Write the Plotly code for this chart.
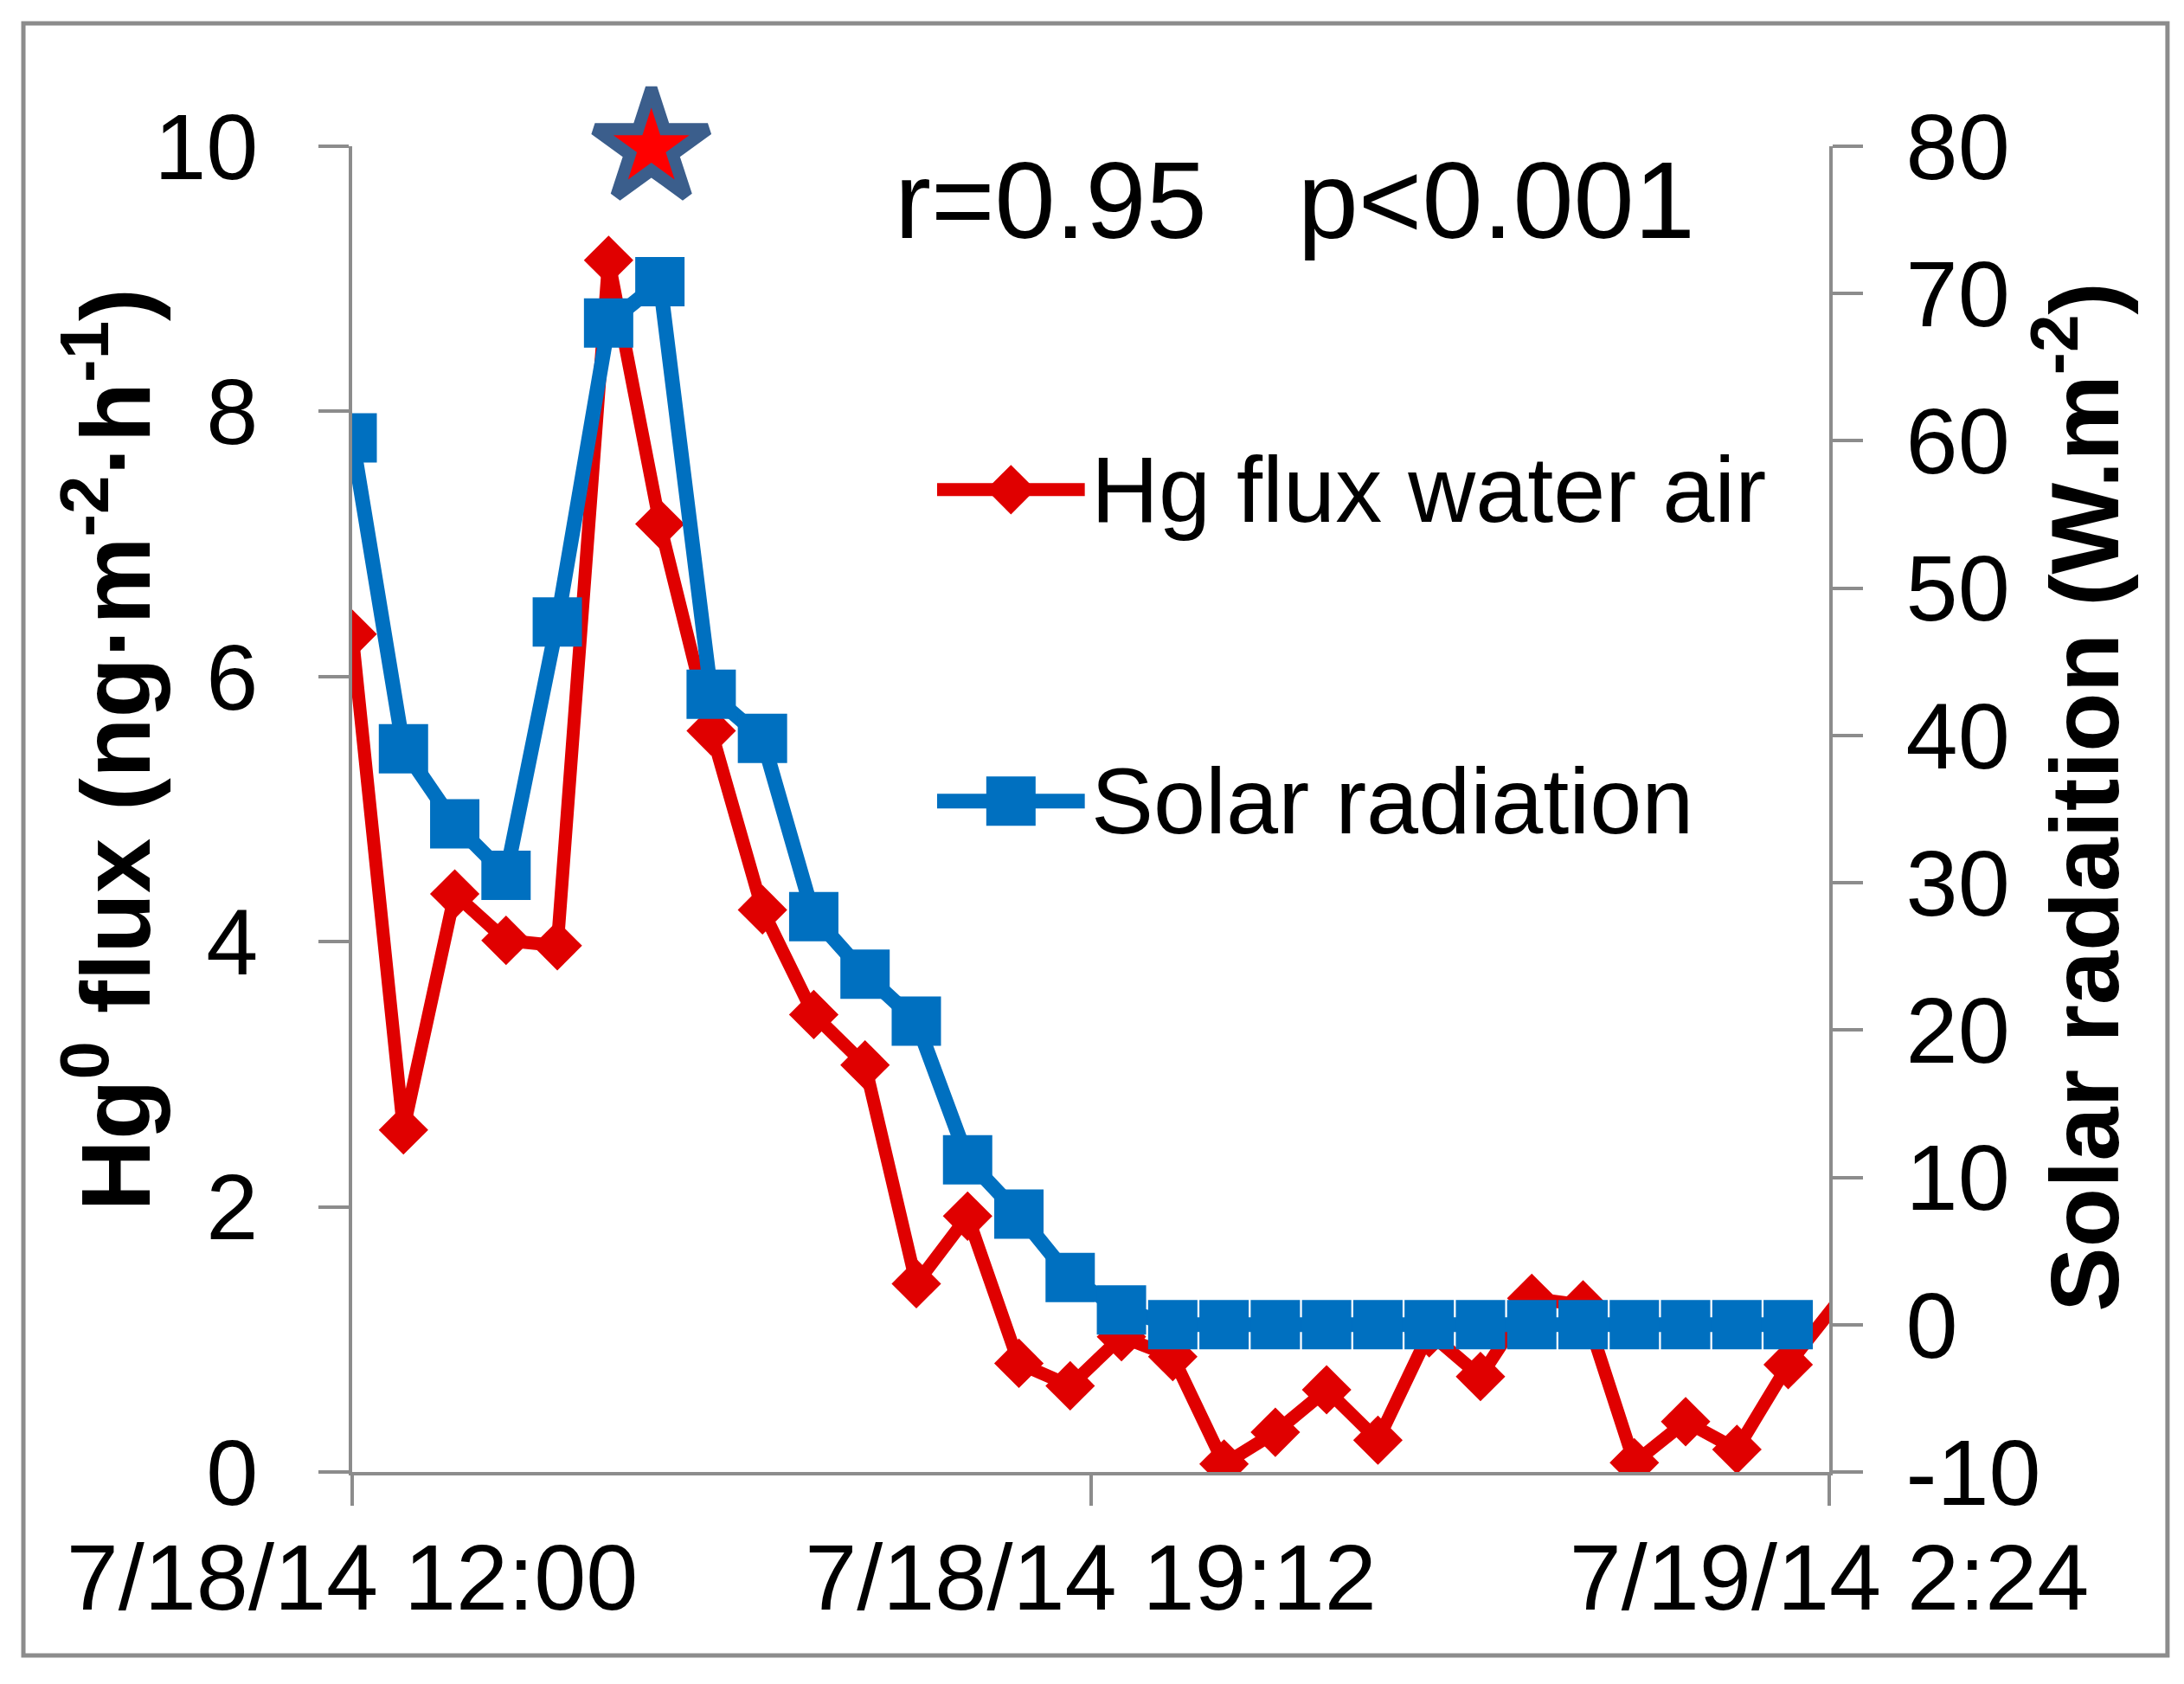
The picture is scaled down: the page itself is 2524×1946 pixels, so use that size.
import plotly.graph_objects as go

# half-hourly readings, 7/18/14 12:00 onwards
times = [
    "2014-07-18 12:00", "2014-07-18 12:30", "2014-07-18 13:00", "2014-07-18 13:30",
    "2014-07-18 14:00", "2014-07-18 14:30", "2014-07-18 15:00", "2014-07-18 15:30",
    "2014-07-18 16:00", "2014-07-18 16:30", "2014-07-18 17:00", "2014-07-18 17:30",
    "2014-07-18 18:00", "2014-07-18 18:30", "2014-07-18 19:00", "2014-07-18 19:30",
    "2014-07-18 20:00", "2014-07-18 20:30", "2014-07-18 21:00", "2014-07-18 21:30",
    "2014-07-18 22:00", "2014-07-18 22:30", "2014-07-18 23:00", "2014-07-18 23:30",
    "2014-07-19 00:00", "2014-07-19 00:30", "2014-07-19 01:00", "2014-07-19 01:30",
    "2014-07-19 02:00", "2014-07-19 02:30",
]

# Hg flux water-air (ng m-2 h-1), left axis
hg_flux = [6.32, 2.58, 4.36, 4.01, 3.97, 9.14, 7.15, 5.59, 4.24, 3.45,
           3.07, 1.42, 1.93, 0.82, 0.65, 1.02, 0.87, 0.06, 0.30, 0.62,
           0.24, 1.05, 0.72, 1.31, 1.26, 0.07, 0.38, 0.17, 0.81, 1.30]

# solar radiation (W m-2), right axis - one reading fewer
solar = [60.2, 39.1, 34.0, 30.5, 47.7, 68.0, 70.8, 42.8, 39.8, 27.7,
         23.8, 20.6, 11.2, 7.5, 3.2, 1.0, 0, 0, 0, 0,
         0, 0, 0, 0, 0, 0, 0, 0, 0]

# star marking the peak (kept inside the axis range, otherwise plotly hides it)
star_time = ["2014-07-18 14:55"]
star_value = [9.99]

x_range = ["2014-07-18 12:00", "2014-07-19 02:24"]
x_tickvals = ["2014-07-18 12:00", "2014-07-18 19:12", "2014-07-19 02:24"]
x_ticktext = ["7/18/14 12:00", "7/18/14 19:12", "7/19/14 2:24"]

left_ticks = [0, 2, 4, 6, 8, 10]
right_ticks = [-10, 0, 10, 20, 30, 40, 50, 60, 70, 80]
right_ticktext = ["-10", "0", "10", "20", "30", "40", "50", "60", "70", "80"]

legend_names = ["Hg flux water air", "Solar radiation"]
stats_text = "r=0.95   p<0.001"
left_title = "<b>Hg<sup>0</sup> flux (ng·m<sup>-2</sup>·h<sup>-1</sup>)</b>"
right_title = "<b>Solar radaition (W.m<sup>-2</sup>)</b>"

RED = "#E00000"
BLUE = "#0070C0"
GREY = "#8C8C8C"
FONT = "Liberation Sans, Arial, sans-serif"

fig = go.Figure()

# red series first so the blue one sits on top
fig.add_trace(go.Scatter(
    x=times, y=hg_flux, mode="lines+markers", name=legend_names[0],
    line=dict(color=RED, width=15),
    marker=dict(symbol="diamond", size=44, color=RED),
    showlegend=False,
))

fig.add_trace(go.Scatter(
    x=times[:len(solar)], y=solar, mode="lines+markers", name=legend_names[1],
    yaxis="y2",
    line=dict(color=BLUE, width=17),
    marker=dict(symbol="square", size=57, color=BLUE),
    showlegend=False,
))

fig.add_trace(go.Scatter(
    x=star_time, y=star_value, mode="markers",
    marker=dict(symbol="star", size=98, color="#FF0000",
                line=dict(color="#3B5E8C", width=14)),
    showlegend=False, cliponaxis=False,
))

# hand-made legend on a hidden 0..1 overlay
leg_x = [0.396, 0.446, 0.496]
leg_y = [0.741, 0.506]
fig.add_trace(go.Scatter(
    x=leg_x, y=[leg_y[0]] * 3, xaxis="x3", yaxis="y3", mode="lines",
    line=dict(color=RED, width=15), showlegend=False, hoverinfo="skip",
))
fig.add_trace(go.Scatter(
    x=[leg_x[1]], y=[leg_y[0]], xaxis="x3", yaxis="y3", mode="markers",
    marker=dict(symbol="diamond", size=44, color=RED), showlegend=False, hoverinfo="skip",
))
fig.add_trace(go.Scatter(
    x=leg_x, y=[leg_y[1]] * 3, xaxis="x3", yaxis="y3", mode="lines",
    line=dict(color=BLUE, width=17), showlegend=False, hoverinfo="skip",
))
fig.add_trace(go.Scatter(
    x=[leg_x[1]], y=[leg_y[1]], xaxis="x3", yaxis="y3", mode="markers",
    marker=dict(symbol="square", size=57, color=BLUE), showlegend=False, hoverinfo="skip",
))

for name, yy in zip(legend_names, leg_y):
    fig.add_annotation(
        x=0.499, y=yy, xref="paper", yref="paper", text=name, showarrow=False,
        xanchor="left", yanchor="middle", font=dict(size=108, color="black", family=FONT),
    )

fig.add_annotation(
    x=0.366, y=0.959, xref="paper", yref="paper", text=stats_text, showarrow=False,
    xanchor="left", yanchor="middle", font=dict(size=126, color="black", family=FONT),
)

# axis titles as rotated annotations, placed like the original
fig.add_annotation(
    x=-0.165, y=0.545, xref="paper", yref="paper", text=left_title, showarrow=False,
    textangle=-90, xanchor="center", yanchor="middle",
    font=dict(size=114, color="black", family=FONT),
)
fig.add_annotation(
    x=1.168, y=0.509, xref="paper", yref="paper", text=right_title, showarrow=False,
    textangle=-90, xanchor="center", yanchor="middle",
    font=dict(size=112, color="black", family=FONT),
)

# grey frame round the whole picture
fig.add_shape(
    type="rect", xref="paper", yref="paper",
    x0=-0.2226, x1=1.2290, y0=-0.1384, y1=1.0927,
    line=dict(color=GREY, width=5), fillcolor="rgba(0,0,0,0)",
)

axis_common = dict(
    showgrid=False, zeroline=False, showline=True, linecolor=GREY, linewidth=4,
    ticks="outside", ticklen=35, tickwidth=4, tickcolor=GREY,
    tickfont=dict(size=108, color="black", family=FONT),
)

fig.update_layout(
    width=2524, height=1946,
    margin=dict(l=399, r=418, t=161, b=253),
    plot_bgcolor="white", paper_bgcolor="white",
    font=dict(family=FONT, color="black"),
    xaxis=dict(
        type="date", range=x_range, tickmode="array",
        tickvals=x_tickvals, ticktext=x_ticktext, ticklabelstandoff=-10,
        **axis_common,
    ),
    yaxis=dict(
        range=[0, 10], tickmode="array", tickvals=left_ticks, ticklabelstandoff=48,
        **axis_common,
    ),
    yaxis2=dict(
        range=[-10, 80], tickmode="array", tickvals=right_ticks, ticktext=right_ticktext,
        overlaying="y", side="right", ticklabelstandoff=28,
        **axis_common,
    ),
    xaxis3=dict(overlaying="x", range=[0, 1], visible=False, fixedrange=True),
    yaxis3=dict(overlaying="y", range=[0, 1], visible=False, fixedrange=True),
)

fig.write_html("out.html")
